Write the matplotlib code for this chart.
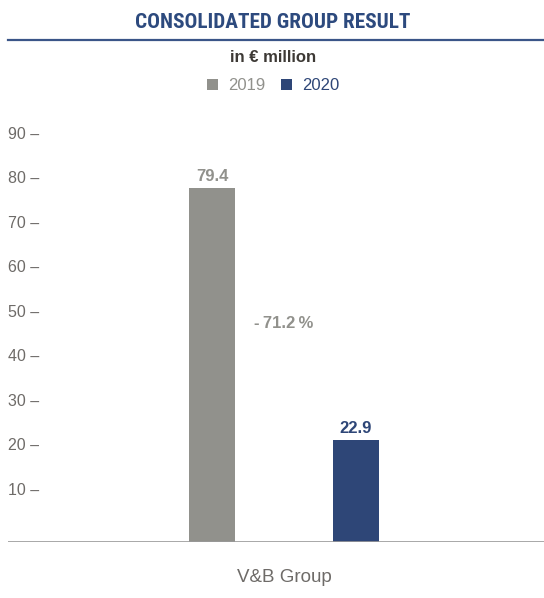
import matplotlib
matplotlib.use("Agg")
import matplotlib.pyplot as plt
import matplotlib.transforms as mtransforms
from matplotlib.lines import Line2D
from matplotlib.patches import Rectangle
from matplotlib import font_manager
from matplotlib.font_manager import FontProperties
from matplotlib.textpath import TextPath

BODY = "Liberation Sans"

title = "CONSOLIDATED GROUP RESULT"
subtitle = "in € million"
category = "V&B Group"
series = ["2019", "2020"]
values = [79.4, 22.9]
value_labels = ["79.4", "22.9"]
change_label = "-\u200971.2\u2009%"
yticks = [10, 20, 30, 40, 50, 60, 70, 80, 90]

GREY = "#91918c"
BLUE = "#2e4677"
TITLE_BLUE = "#2d4a7e"
TICK_GREY = "#6e6b68"

ALLOWED = ("dejavu", "liberation", "noto sans", "roboto", "open sans", "lato", "inter")
TARGET = 277 / 15.0  # width / cap-height of the reference title


def _weight(f):
    w = f.weight
    if isinstance(w, str):
        return font_manager.weight_dict.get(w, 400)
    return w


best = None
for f in font_manager.fontManager.ttflist:
    fn = str(f.fname).lower()
    if not f.name.lower().startswith(ALLOWED) or "cjk" in f.name.lower() or "mono" in f.name.lower():
        continue
    if f.style != "normal" or "italic" in fn or "oblique" in fn:
        continue
    if _weight(f) < 600 or _weight(f) > 800:
        continue
    try:
        fp = FontProperties(fname=f.fname)
        w = TextPath((0, 0), title, size=10, prop=fp).get_extents().width
        cap = TextPath((0, 0), "H", size=10, prop=fp).get_extents().height
        score = abs(w / cap - TARGET)
    except Exception:
        continue
    if best is None or score < best[0]:
        best = (score, fp)
title_fp = best[1] if best else FontProperties(family=BODY, weight="bold")

W, H = 544, 598
fig = plt.figure(figsize=(W / 100, H / 100), dpi=100)

ax = fig.add_axes([8 / W, 56.3 / H, 536 / W, 431.7 / H])
ax.set_xlim(-1.917, 1.806)
ax.set_ylim(0, 97)
for s in ax.spines.values():
    s.set_visible(False)
ax.set_xticks([])
ax.set_yticks([])

offsets = [-0.5, 0.5]
colors = [GREY, BLUE]
ax.bar(offsets, values, width=0.32, color=colors)
ax.axhline(0, color="#9a9a9a", lw=1.2)

for x, v, lab, c in zip(offsets, values, value_labels, colors):
    ax.annotate(lab, (x, v), xytext=(0, 3), textcoords="offset points",
                ha="center", va="bottom", fontsize=12, fontweight="bold",
                color=c, family=BODY)

ax.text(0, 49, change_label, ha="center", va="center", fontsize=12,
        fontweight="bold", color=GREY, family=[BODY, "DejaVu Sans"])

off = mtransforms.ScaledTranslation(0, 7 / 100, fig.dpi_scale_trans)
trans = mtransforms.blended_transform_factory(ax.transAxes, ax.transData) + off
for t in yticks:
    ax.text(0, t, f"{t} –", transform=trans, ha="left", va="center",
            fontsize=11.5, color=TICK_GREY, family=BODY)

ax.text(0, -8, category, ha="center", va="center", fontsize=13.5,
        color=TICK_GREY, family=BODY, transform=ax.transData, clip_on=False)

tt = fig.text(273 / W, 1 - 23 / H, title, ha="center", va="center",
              color=TITLE_BLUE, fontproperties=title_fp)
tt.set_fontsize(15)
r = fig.canvas.get_renderer()
wpx = tt.get_window_extent(renderer=r).width
if wpx > 0:
    tt.set_fontsize(min(17, 15 * 277 / wpx))

fig.add_artist(Line2D([8 / W, 1], [1 - 39.5 / H, 1 - 39.5 / H],
                      transform=fig.transFigure, color="#3a5588", lw=1.6))
fig.text(273 / W, 1 - 58 / H, subtitle, ha="center", va="center", fontsize=12,
         fontweight="bold", color="#3d3935", family=BODY)

sq = 11
for (x0, lab, c) in [(207, series[0], GREY), (281, series[1], BLUE)]:
    fig.add_artist(Rectangle((x0 / W, 1 - 90 / H), sq / W, sq / H,
                             transform=fig.transFigure, color=c, lw=0))
    fig.text((x0 + 21) / W, 1 - 85 / H, lab, ha="left", va="center",
             fontsize=12, color=c, family=BODY)

fig.savefig("out.png", dpi=100)
